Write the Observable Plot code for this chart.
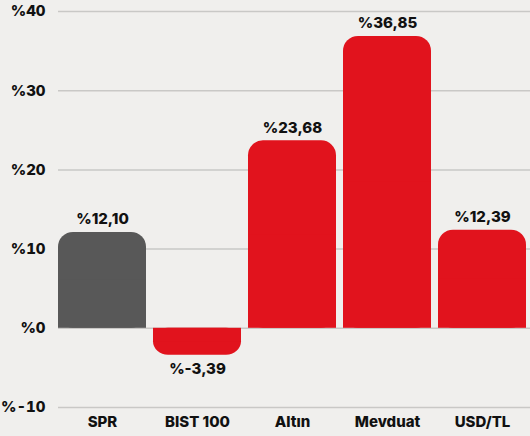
<!DOCTYPE html>
<html><head><meta charset="utf-8">
<script src="https://cdn.jsdelivr.net/npm/d3@7"></script>
<script src="https://cdn.jsdelivr.net/npm/@observablehq/plot@0.6"></script>
<style>
html,body{margin:0;padding:0;background:#f0efed;}
svg{display:block;}
</style>
</head><body>
<div id="chart"></div>
<script>
const categories = ["SPR", "BIST 100", "Altın", "Mevduat", "USD/TL"];
const values = [12.10, -3.39, 23.68, 36.85, 12.39];
const valueLabels = ["%12,10", "%-3,39", "%23,68", "%36,85", "%12,39"];
const colors = ["#585858", "#e1131d", "#e1131d", "#e1131d", "#e1131d"];
const yTicks = [-10, 0, 10, 20, 30, 40];
const yTickLabels = ["%-10", "%0", "%10", "%20", "%30", "%40"];

const data = categories.map((c, i) => ({cat: c, v: values[i], label: valueLabels[i], color: colors[i]}));

const chart = Plot.plot({
  width: 530,
  height: 436,
  marginLeft: 58,
  marginRight: 0,
  marginTop: 11,
  marginBottom: 29,
  style: {background: "#f0efed", fontFamily: "Inter, sans-serif", fontWeight: 800, fontSize: "15px", color: "#111"},
  x: {domain: categories, paddingInner: 0.074, paddingOuter: 0.021, align: 0, label: null},
  y: {domain: [-10, 40], label: null},
  marks: [
    Plot.ruleY(yTicks, {stroke: "#c9c8c6", strokeWidth: 1.5}),
    Plot.barY(data, {x: "cat", y1: 0, y2: "v", fill: "color", rx: 15}),
    Plot.barY(data, {x: "cat", y1: 0, y2: d => d.v / 2, fill: "color"}),
    Plot.text(data, {x: "cat", y: "v", text: "label", lineAnchor: "bottom",
      filter: d => d.v >= 0, dy: -8, fontSize: 15, fontWeight: 800, fill: "#111"}),
    Plot.text(data, {x: "cat", y: "v", text: "label", lineAnchor: "top",
      filter: d => d.v < 0, dy: 8, fontSize: 15, fontWeight: 800, fill: "#111"}),
    Plot.axisY({ticks: yTicks, tickFormat: d => yTickLabels[yTicks.indexOf(d)], tickSize: 0, tickPadding: 13, fontSize: 15, fontWeight: 800, label: null}),
    Plot.axisX({tickSize: 0, tickPadding: 9, fontSize: 15, fontWeight: 800, label: null})
  ]
});
document.getElementById("chart").appendChild(chart);
</script>
</body></html>
